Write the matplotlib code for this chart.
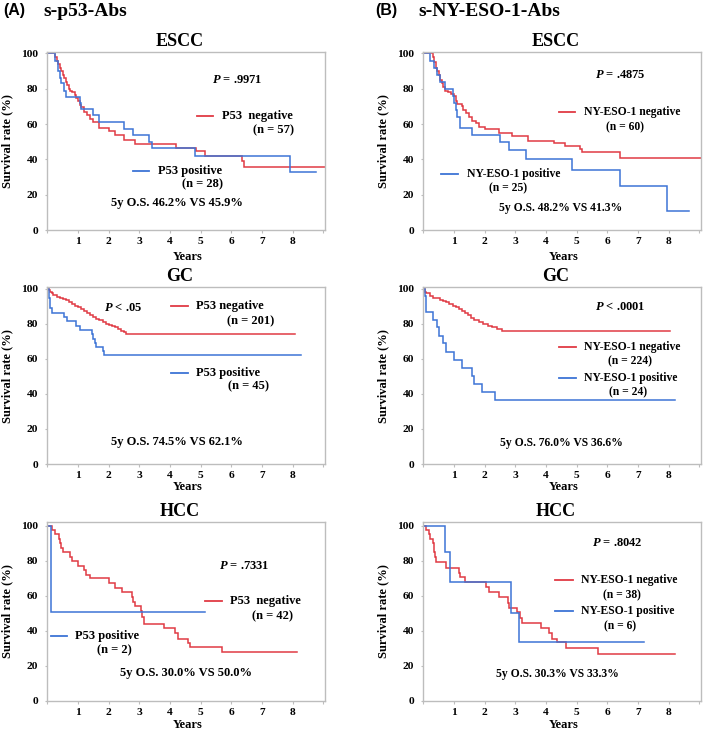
import matplotlib
matplotlib.use('Agg')
import matplotlib.pyplot as plt
import numpy as np

plt.rcParams['font.family'] = ['Liberation Serif', 'DejaVu Serif']
plt.rcParams['font.weight'] = 'bold'
plt.rcParams['mathtext.fontset'] = 'custom'
plt.rcParams['mathtext.it'] = 'Liberation Serif:italic:bold'
plt.rcParams['mathtext.rm'] = 'Liberation Serif:bold'

RED = '#e03a44'
BLUE = '#3d74d6'
GRAY = '#bdbdbd'

# ---------------- data (years, survival %) ----------------
escc_p53_neg_t = [0.25, 0.3, 0.35, 0.4, 0.45, 0.5, 0.55, 0.6, 0.65, 0.7, 0.75, 0.8, 0.9, 0.95, 1.0,
                  1.05, 1.1, 1.2, 1.3, 1.4, 1.5, 1.7, 2.0, 2.2, 2.5, 2.85, 4.2, 4.85, 5.15, 6.33, 6.4]
escc_p53_neg_s = [98, 96, 94, 92, 90, 88, 86, 84, 82, 80, 79, 78, 76.5, 75, 73,
                  71, 69.5, 67, 65, 63, 61, 58, 56, 54, 50.7, 48.5, 46.5, 44.5, 42, 39, 35.7]
escc_p53_neg_end = 9.05
escc_p53_pos_t = [0.25, 0.35, 0.4, 0.45, 0.55, 0.6, 1.05, 1.1, 1.5, 1.7, 2.5, 2.8, 3.3, 3.4, 4.8, 7.9]
escc_p53_pos_s = [96, 90, 86, 83, 79, 75.5, 72, 68.5, 65, 61, 57, 54, 50, 46.5, 42, 33]
escc_p53_pos_end = 8.77

escc_ny_neg_t = [0.3, 0.35, 0.4, 0.45, 0.5, 0.55, 0.6, 0.65, 0.7, 0.8, 0.9, 1.0, 1.05, 1.1, 1.25,
                 1.3, 1.4, 1.5, 1.6, 1.7, 1.8, 2.0, 2.45, 2.9, 3.4, 4.25, 4.6, 5.1, 5.16, 6.4]
escc_ny_neg_s = [98, 95, 92, 90, 88, 85, 83, 81, 79, 78, 77, 76, 73, 71.5, 70,
                 68, 66, 64, 62, 60.5, 58.6, 57, 55, 53, 50.6, 49, 47.6, 45.8, 44, 41]
escc_ny_neg_end = 9.05
escc_ny_pos_t = [0.22, 0.35, 0.45, 0.55, 0.7, 0.95, 1.0, 1.05, 1.1, 1.2, 1.6, 2.5, 2.8, 3.35, 4.85, 6.4, 7.95]
escc_ny_pos_s = [96, 92, 88, 84, 80, 76, 72, 68, 64, 58, 54, 50, 45.5, 40.5, 34, 25, 11]
escc_ny_pos_end = 8.67

gc_p53_neg_t = [0.05, 0.1, 0.15, 0.2, 0.3, 0.4, 0.5, 0.6, 0.7, 0.8, 0.9, 1.0, 1.1, 1.2, 1.3, 1.4,
                1.5, 1.6, 1.7, 1.8, 1.9, 2.0, 2.1, 2.2, 2.3, 2.4, 2.5, 2.55]
gc_p53_neg_s = [99.5, 98.5, 97.5, 96.5, 95.5, 95, 94.5, 93.5, 92.5, 91.5, 90.5, 89.5, 88.5, 87.3, 86, 85,
                84, 83, 82, 81, 80, 79.5, 79, 78, 77, 76, 75.5, 74.5]
gc_p53_neg_end = 8.07
gc_p53_pos_t = [0.05, 0.1, 0.15, 0.55, 0.65, 0.95, 1.05, 1.45, 1.5, 1.55, 1.6, 1.8, 1.85]
gc_p53_pos_s = [95, 89, 86.5, 84, 81.5, 79, 76.5, 74, 71.5, 69, 67, 64.5, 62]
gc_p53_pos_end = 8.26

gc_ny_neg_t = [0.05, 0.1, 0.2, 0.3, 0.45, 0.55, 0.65, 0.75, 0.85, 0.95, 1.05, 1.15, 1.25, 1.35, 1.45,
               1.55, 1.65, 1.8, 1.95, 2.1, 2.25, 2.4, 2.55]
gc_ny_neg_s = [98.5, 97.5, 96, 95, 94.7, 93.7, 93, 92.4, 91.5, 90.5, 89.5, 88.6, 87.5, 86.5, 85,
               83.6, 82.5, 81, 80, 79, 78, 77, 76]
gc_ny_neg_end = 8.05
gc_ny_pos_t = [0.05, 0.1, 0.3, 0.45, 0.5, 0.65, 0.75, 1.0, 1.25, 1.6, 1.65, 1.9, 2.35]
gc_ny_pos_s = [96, 87, 82.5, 78, 73, 69, 64, 59.5, 55, 50, 45.5, 41, 36.6]
gc_ny_pos_end = 8.2

hcc_p53_neg_t = [0.15, 0.25, 0.38, 0.42, 0.45, 0.5, 0.75, 0.8, 1.0, 1.2, 1.25, 1.4, 2.0, 2.2, 2.45,
                 2.75, 2.8, 2.85, 3.05, 3.1, 3.15, 3.8, 4.15, 4.25, 4.6, 4.65, 5.7]
hcc_p53_neg_s = [97.6, 95, 92.5, 90, 87, 85, 82, 80, 77, 74.5, 72, 70, 67, 64.5, 62,
                 59, 56.5, 54, 51, 48, 44, 41.5, 38.5, 35.5, 33, 30.5, 27.6]
hcc_p53_neg_end = 8.15
hcc_p53_pos_t = [0.13]
hcc_p53_pos_s = [50.5]
hcc_p53_pos_end = 5.13

hcc_ny_neg_t = [0.1, 0.18, 0.22, 0.3, 0.35, 0.38, 0.42, 0.75, 1.15, 1.2, 1.35, 2.05, 2.15, 2.45, 2.75,
                2.8, 3.05, 3.15, 3.2, 3.85, 4.1, 4.2, 4.35, 4.65, 5.7]
hcc_ny_neg_s = [97.5, 95, 92.5, 90, 85, 82, 79, 76, 73, 70.5, 67.8, 65, 62, 59, 56,
                53, 50.5, 47.5, 44.6, 41.5, 38.5, 35.5, 33.3, 30, 26.5]
hcc_ny_neg_end = 8.2
hcc_ny_pos_t = [0.7, 0.86, 2.86, 3.13]
hcc_ny_pos_s = [84.8, 67.8, 50.4, 33.3]
hcc_ny_pos_end = 7.18

xtick_vals = [0, 1, 2, 3, 4, 5, 6, 7, 8, 9]
xtick_labels = ['', '1', '2', '3', '4', '5', '6', '7', '8', '']
ytick_vals = [0, 20, 40, 60, 80, 100]

# ---------------- layout ----------------
W, H = 709, 730
fig = plt.figure(figsize=(W / 100, H / 100), dpi=100)
fig.patch.set_facecolor('white')

colA = (47.3, 325.0)
colB = (423.4, 701.0)
rows = [(51.7, 230.0, 101.0), (287.2, 464.0, 101.0), (521.7, 700.7, 102.3)]


def make_axes(col, row):
    l, r = col
    t, b, top = row
    ax = fig.add_axes([l / W, (H - b) / H, (r - l) / W, (b - t) / H])
    ax.set_xlim(0, 9.05)
    ax.set_ylim(0, top)
    return ax


def km(ax, t, s, end, color):
    x = np.r_[0, t, end]
    y = np.r_[100, s, s[-1]]
    ax.step(x, y, where='post', color=color, lw=1.1, solid_joinstyle='miter')


def style(ax, title, years_y, fs_tick=8.2):
    for sp in ax.spines.values():
        sp.set_color(GRAY)
        sp.set_linewidth(1.0)
    ax.set_xticks(xtick_vals)
    ax.set_xticklabels(xtick_labels)
    ax.set_yticks(ytick_vals)
    ax.tick_params(axis='x', length=2.2, width=0.8, color=GRAY, pad=3.2, labelsize=fs_tick)
    ax.tick_params(axis='y', length=1.5, width=0.8, color=GRAY, pad=5.0, labelsize=fs_tick)
    for lab in ax.get_xticklabels() + ax.get_yticklabels():
        lab.set_fontweight('bold')
    ax.set_xlabel('Years', fontsize=9, fontweight='bold')
    ax.xaxis.set_label_coords(0.505, years_y)
    ax.xaxis.label.set_verticalalignment('center')
    ax.set_ylabel('Survival rate (%)', fontsize=9, fontweight='bold')
    ax.yaxis.set_label_coords(-0.145, 0.5)
    ax.yaxis.label.set_verticalalignment('center')
    ax.annotate(title, xy=(0.477, 1.0), xycoords='axes fraction', xytext=(0, 7.6),
                textcoords='offset points', ha='center', va='center', fontsize=13, fontweight='bold')


def legend_item(ax, x1, x2, y, color, label, nlabel, nx, ny, fs):
    ax.plot([x1, x2], [y, y], color=color, lw=1.3)
    ax.text(x2 + 0.27, y, label, ha='left', va='center', fontsize=fs, fontweight='bold')
    ax.text(nx, ny, nlabel, ha='center', va='center', fontsize=fs, fontweight='bold')


# ---- A ESCC ----
ax = make_axes(colA, rows[0])
km(ax, escc_p53_neg_t, escc_p53_neg_s, escc_p53_neg_end, RED)
km(ax, escc_p53_pos_t, escc_p53_pos_s, escc_p53_pos_end, BLUE)
style(ax, 'ESCC', -0.152)
ax.text(6.18, 84.7, r'$P$ = .9971', ha='center', va='center', fontsize=9)
legend_item(ax, 4.87, 5.41, 64.4, RED, 'P53  negative', '(n = 57)', 7.38, 56.5, 9)
legend_item(ax, 2.8, 3.33, 33.5, BLUE, 'P53 positive', '(n = 28)', 5.07, 26.0, 9)
ax.text(4.24, 15.1, '5y O.S. 46.2% VS 45.9%', ha='center', va='center', fontsize=9)

# ---- B ESCC ----
ax = make_axes(colB, rows[0])
km(ax, escc_ny_neg_t, escc_ny_neg_s, escc_ny_neg_end, RED)
km(ax, escc_ny_pos_t, escc_ny_pos_s, escc_ny_pos_end, BLUE)
style(ax, 'ESCC', -0.152)
ax.text(6.43, 88.0, r'$P$ = .4875', ha='center', va='center', fontsize=9)
legend_item(ax, 4.43, 4.95, 66.7, RED, 'NY-ESO-1 negative', '(n = 60)', 6.57, 58.2, 8.4)
legend_item(ax, 0.58, 1.14, 31.8, BLUE, 'NY-ESO-1 positive', '(n = 25)', 2.76, 23.9, 8.4)
ax.text(4.46, 12.6, '5y O.S. 48.2% VS 41.3%', ha='center', va='center', fontsize=8.4)

# ---- A GC ----
ax = make_axes(colA, rows[1])
km(ax, gc_p53_neg_t, gc_p53_neg_s, gc_p53_neg_end, RED)
km(ax, gc_p53_pos_t, gc_p53_pos_s, gc_p53_pos_end, BLUE)
style(ax, 'GC', -0.13)
ax.text(2.48, 89.0, r'$P$ < .05', ha='center', va='center', fontsize=9)
legend_item(ax, 4.02, 4.59, 90.3, RED, 'P53 negative', '(n = 201)', 6.63, 81.3, 9)
legend_item(ax, 4.02, 4.59, 51.8, BLUE, 'P53 positive', '(n = 45)', 6.56, 44.2, 9)
ax.text(4.21, 12.7, '5y O.S. 74.5% VS 62.1%', ha='center', va='center', fontsize=9)

# ---- B GC ----
ax = make_axes(colB, rows[1])
km(ax, gc_ny_neg_t, gc_ny_neg_s, gc_ny_neg_end, RED)
km(ax, gc_ny_pos_t, gc_ny_pos_s, gc_ny_pos_end, BLUE)
style(ax, 'GC', -0.13)
ax.text(6.41, 89.7, r'$P$ < .0001', ha='center', va='center', fontsize=9)
legend_item(ax, 4.43, 4.98, 66.9, RED, 'NY-ESO-1 negative', '(n = 224)', 6.72, 58.5, 8.4)
legend_item(ax, 4.43, 4.98, 49.3, BLUE, 'NY-ESO-1 positive', '(n = 24)', 6.68, 41.1, 8.4)
ax.text(4.49, 12.2, '5y O.S. 76.0% VS 36.6%', ha='center', va='center', fontsize=8.4)

# ---- A HCC ----
ax = make_axes(colA, rows[2])
km(ax, hcc_p53_neg_t, hcc_p53_neg_s, hcc_p53_neg_end, RED)
km(ax, hcc_p53_pos_t, hcc_p53_pos_s, hcc_p53_pos_end, BLUE)
style(ax, 'HCC', -0.136)
ax.text(6.41, 77.0, r'$P$ = .7331', ha='center', va='center', fontsize=9)
legend_item(ax, 5.14, 5.68, 57.1, RED, 'P53  negative', '(n = 42)', 7.34, 48.0, 9)
legend_item(ax, 0.11, 0.63, 37.1, BLUE, 'P53 positive', '(n = 2)', 2.2, 29.0, 9)
ax.text(4.52, 15.6, '5y O.S. 30.0% VS 50.0%', ha='center', va='center', fontsize=9)

# ---- B HCC ----
ax = make_axes(colB, rows[2])
km(ax, hcc_ny_neg_t, hcc_ny_neg_s, hcc_ny_neg_end, RED)
km(ax, hcc_ny_pos_t, hcc_ny_pos_s, hcc_ny_pos_end, BLUE)
style(ax, 'HCC', -0.136)
ax.text(6.32, 90.3, r'$P$ = .8042', ha='center', va='center', fontsize=9)
legend_item(ax, 4.3, 4.87, 69.0, RED, 'NY-ESO-1 negative', '(n = 38)', 6.48, 60.5, 8.4)
legend_item(ax, 4.3, 4.87, 51.0, BLUE, 'NY-ESO-1 positive', '(n = 6)', 6.42, 42.6, 8.4)
ax.text(4.36, 15.0, '5y O.S. 30.3% VS 33.3%', ha='center', va='center', fontsize=8.4)

# ---- headers ----
fig.text(3 / W, 1 - 11 / H, '(A)', family='Liberation Sans', fontweight='bold', fontsize=11.5, va='center')
fig.text(43 / W, 1 - 11 / H, 's-p53-Abs', fontweight='bold', fontsize=14, va='center')
fig.text(375 / W, 1 - 11 / H, '(B)', family='Liberation Sans', fontweight='bold', fontsize=11.5, va='center')
fig.text(418 / W, 1 - 11 / H, 's-NY-ESO-1-Abs', fontweight='bold', fontsize=14, va='center')

fig.savefig('out.png', dpi=100, facecolor='white')
